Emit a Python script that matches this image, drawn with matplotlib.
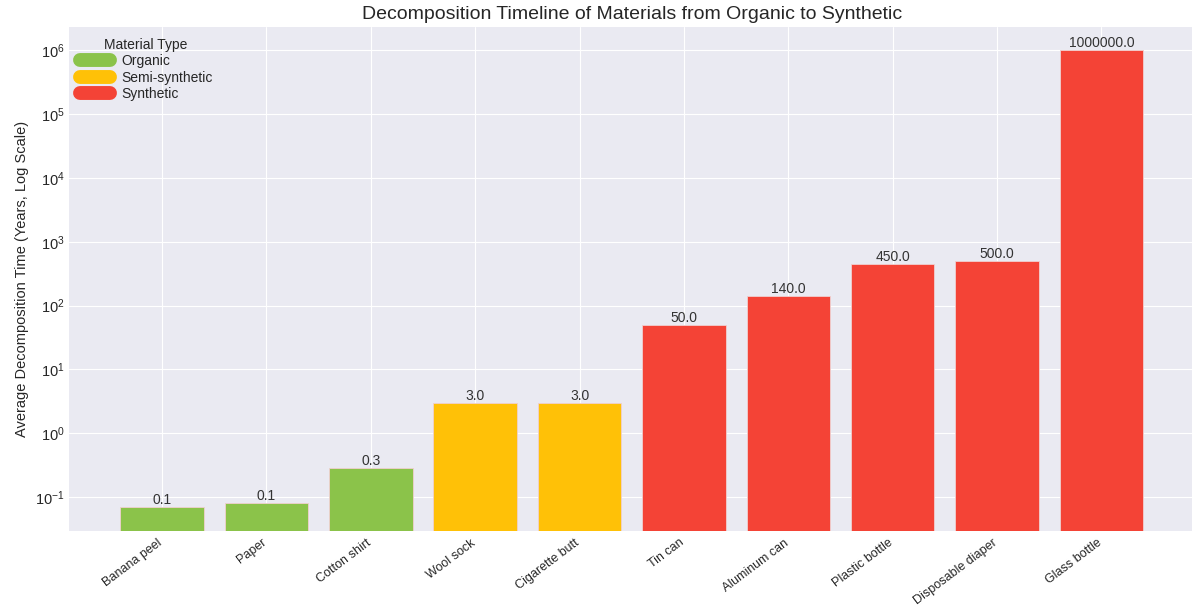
import numpy as np
import matplotlib
matplotlib.use('Agg')
import matplotlib.pyplot as plt
import matplotlib.transforms as mtransforms
from matplotlib.lines import Line2D

# data
materials = ['Banana peel', 'Paper', 'Cotton shirt', 'Wool sock', 'Cigarette butt',
             'Tin can', 'Aluminum can', 'Plastic bottle', 'Disposable diaper', 'Glass bottle']
years = [0.07, 0.08, 0.29, 3.0, 3.0, 50.0, 140.0, 450.0, 500.0, 1000000.0]
types = ['Organic', 'Organic', 'Organic', 'Semi-synthetic', 'Semi-synthetic',
         'Synthetic', 'Synthetic', 'Synthetic', 'Synthetic', 'Synthetic']
type_names = ['Organic', 'Semi-synthetic', 'Synthetic']
type_colors = {'Organic': '#8BC34A', 'Semi-synthetic': '#FFC107', 'Synthetic': '#F44336'}

plt.style.use('seaborn-v0_8-darkgrid')
plt.rcParams['font.family'] = ['Liberation Sans', 'DejaVu Sans']

fig, ax = plt.subplots(figsize=(11.92, 6.05), dpi=100)
fig.subplots_adjust(left=0.058, right=1.002, top=0.955, bottom=0.122)

x = np.arange(len(materials))
colors = [type_colors[t] for t in types]
bars = ax.bar(x, years, width=0.8, color=colors, edgecolor='#f0d0d0', linewidth=0.6)
ax.set_yscale('log')
ax.set_ylim(0.0293, 2.3e6)

for b, v in zip(bars, years):
    ax.text(b.get_x() + b.get_width() / 2, v, f'{v:.1f}', ha='center', va='bottom',
            fontsize=10, color='#333333')

ax.set_xticks(x)
ax.set_xticklabels(materials, rotation=37, ha='right', rotation_mode='anchor', fontsize=9)
ax.tick_params(axis='x', pad=4)
# nudge the rotated labels a little to the left
shift = mtransforms.ScaledTranslation(-5 / 100, 0, fig.dpi_scale_trans)
for lbl in ax.get_xticklabels():
    lbl.set_transform(lbl.get_transform() + shift)
ax.tick_params(axis='y', labelsize=10.5)
ax.set_ylabel('Average Decomposition Time (Years, Log Scale)', fontsize=10.5)
ax.set_title('Decomposition Timeline of Materials from Organic to Synthetic', fontsize=14)

handles = [Line2D([0], [0], color=type_colors[t], lw=10, solid_capstyle='round') for t in type_names]
ax.legend(handles, type_names, title='Material Type', loc='upper left', fontsize=10,
          title_fontsize=10, frameon=False, handlelength=2.2, labelspacing=0.18,
          borderaxespad=0.25, borderpad=0.5)

fig.savefig('out.png', dpi=100)
